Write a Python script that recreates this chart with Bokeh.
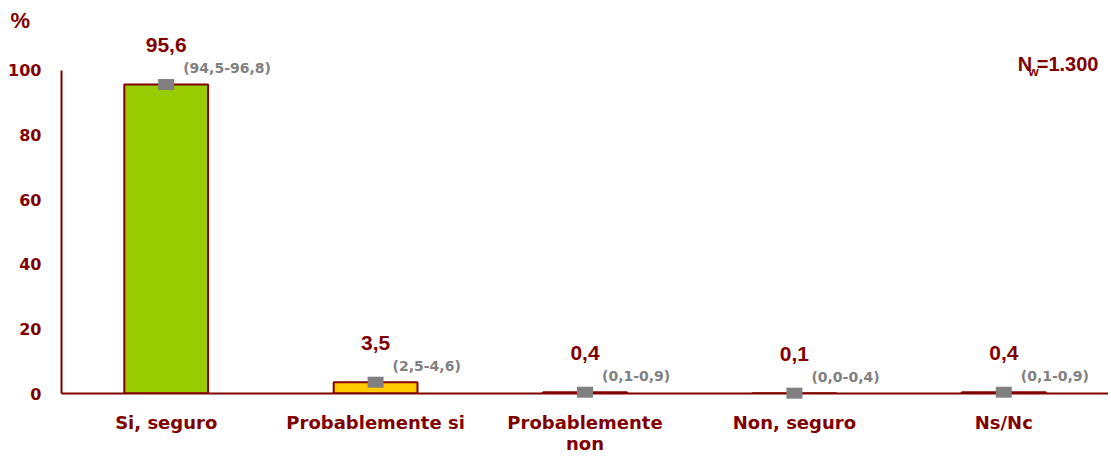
from bokeh.plotting import figure
from bokeh.models import ColumnDataSource, FactorRange, Range1d, FixedTicker, Label
from bokeh.core.properties import value
from bokeh.embed import file_html
from bokeh.resources import INLINE

# ---- data ----
categories = ["Si, seguro", "Probablemente si", "Probablemente\nnon", "Non, seguro", "Ns/Nc"]
values = [95.6, 3.5, 0.4, 0.1, 0.4]
ci_low = [94.5, 2.5, 0.1, 0.0, 0.1]
ci_high = [96.8, 4.6, 0.9, 0.4, 0.9]
bar_colors = ["#99CC00", "#FFCC00", "#FF9900", "#CC3300", "#C0C0C0"]
y_ticks = [0, 20, 40, 60, 80, 100]
n_label = "=1.300"

def fmt(v):
    return f"{v:.1f}".replace(".", ",")

DARK = "#800000"
GREY = "#808080"

src = ColumnDataSource(dict(
    cat=categories,
    val=values,
    lo=ci_low,
    hi=ci_high,
    color=bar_colors,
    vlab=[fmt(v) for v in values],
    clab=[f"({fmt(a)}-{fmt(b)})" for a, b in zip(ci_low, ci_high)],
))

p = figure(
    x_range=FactorRange(factors=categories),
    y_range=Range1d(0, 112.3),
    width=1108, height=456,
    output_backend="svg", toolbar_location=None,
    min_border_left=61, min_border_right=0, min_border_top=30, min_border_bottom=60,
    title="%",
)
p.title.text_font = "Liberation Sans"
p.title.text_font_style = "bold"
p.title.text_font_size = "22px"
p.title.text_color = DARK
p.title.align = "left"
p.title.offset = -51
p.title.standoff = -4

p.outline_line_color = None
p.xgrid.visible = False
p.ygrid.visible = False
p.background_fill_color = "white"

p.vbar(x="cat", top="val", bottom=0, width=0.4, fill_color="color",
       line_color=DARK, line_width=2, source=src)

# error bars
p.segment(x0="cat", y0="lo", x1="cat", y1="hi", line_color=GREY, line_width=2, source=src)
mk = p.rect(x="cat", y="val", width=16, height=11, width_units="screen", height_units="screen",
            fill_color=GREY, line_color=None, source=src)
mk.level = "overlay"

# value labels
p.text(x="cat", y="val", text="vlab", y_offset=-39, text_align="center", text_baseline="middle",
       text_font=value("Liberation Sans"), text_font_style="bold", text_font_size="21px",
       text_color=DARK, source=src)
# CI labels
p.text(x="cat", y="val", text="clab", x_offset=17, y_offset=-16, text_align="left",
       text_baseline="middle", text_font=value("DejaVu Sans"), text_font_style="bold",
       text_font_size="14px", text_color=GREY, source=src)

# axes
ya = p.yaxis[0]
ya.ticker = FixedTicker(ticks=y_ticks)
ya.bounds = (0, 100)
ya.axis_line_color = DARK
ya.axis_line_width = 2
ya.major_tick_line_color = None
ya.minor_tick_line_color = None
ya.major_tick_out = 0
ya.major_label_standoff = 20
ya.major_label_text_color = DARK
ya.major_label_text_font = "DejaVu Sans"
ya.major_label_text_font_style = "bold"
ya.major_label_text_font_size = "16px"

xa = p.xaxis[0]
xa.axis_line_color = DARK
xa.axis_line_width = 2
xa.major_tick_line_color = None
xa.minor_tick_line_color = None
xa.major_tick_out = 0
xa.major_tick_in = 0
xa.major_label_standoff = 18
xa.major_label_text_color = DARK
xa.major_label_text_font = "DejaVu Sans"
xa.major_label_text_font_style = "bold"
xa.major_label_text_font_size = "18px"
xa.major_label_text_line_height = 1.0

# N_w annotation
p.add_layout(Label(x=4.952, y=101.8, text=n_label, text_baseline="middle", text_align="right",
                   text_font="Liberation Sans", text_font_style="bold", text_font_size="20px",
                   text_color=DARK))
p.add_layout(Label(x=4.636, y=101.8, text="N", text_baseline="middle", text_align="right",
                   text_font="Liberation Sans", text_font_style="bold", text_font_size="20px",
                   text_color=DARK))
p.add_layout(Label(x=4.618, y=99.6, text="w", text_baseline="middle", text_align="left",
                   text_font="Liberation Sans", text_font_style="bold", text_font_size="13px",
                   text_color=DARK))

open("out.html", "w").write(file_html(p, INLINE))
